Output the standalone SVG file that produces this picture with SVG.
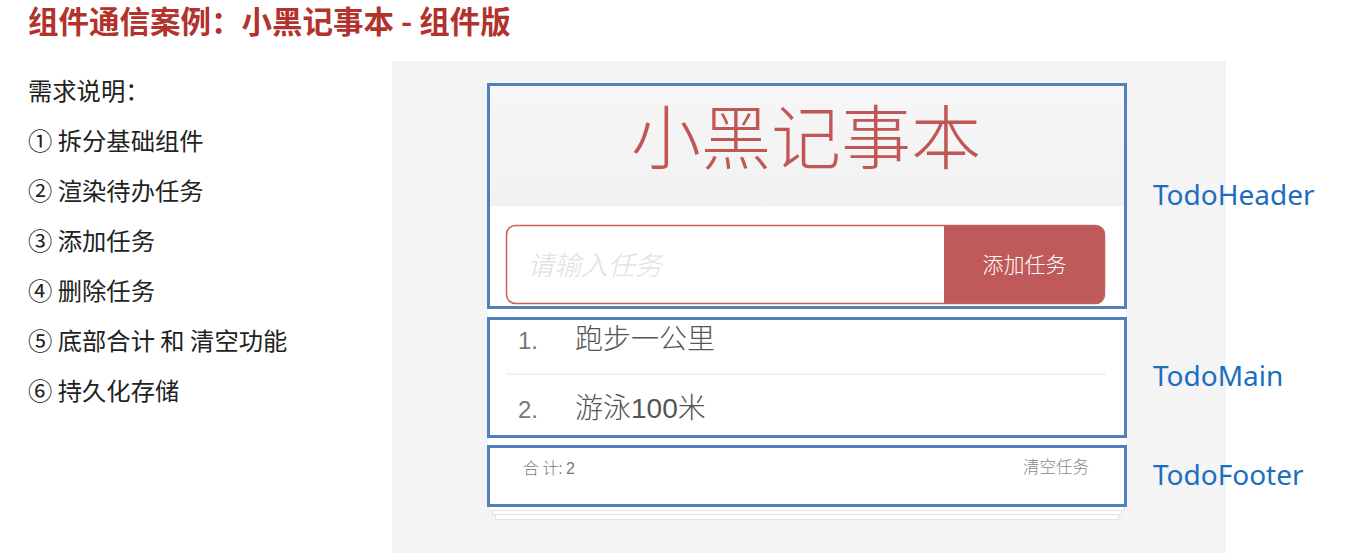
<svg xmlns="http://www.w3.org/2000/svg" width="1346" height="553" viewBox="0 0 1346 553">
<style>
.cjk{font-family:"Noto Sans CJK SC","Noto Sans",sans-serif}
.lbl{font-family:"Noto Sans","Open Sans",sans-serif;font-size:28px;fill:#1b6ebf}
.req{font-size:24.3px;fill:#222}
.box{fill:none;stroke:#5181bb;stroke-width:3}
.sheet{fill:#fff;stroke:#e2e2e2}
</style>
<defs>
<linearGradient id="hdr" x1="0" y1="0" x2="0" y2="1">
<stop offset="0" stop-color="#f6f6f6"/><stop offset="1" stop-color="#f2f2f2"/>
</linearGradient>
</defs>
<rect width="1346" height="553" fill="#fff"/>
<text class="cjk" x="28" y="33" font-size="30.5" font-weight="700" fill="#b2322c">组件通信案例：小黑记事本 - 组件版</text>
<g id="requirements" class="cjk req">
<text x="28" y="100">需求说明：</text>
<text x="28" y="150">① 拆分基础组件</text>
<text x="28" y="200">② 渲染待办任务</text>
<text x="28" y="250">③ 添加任务</text>
<text x="28" y="300">④ 删除任务</text>
<text x="28" y="350">⑤ 底部合计 和 清空功能</text>
<text x="28" y="400">⑥ 持久化存储</text>
</g>
<rect x="392" y="61" width="834" height="492" fill="#f4f4f4"/>
<g id="paper">
<rect class="sheet" x="495.5" y="508.5" width="623" height="11"/>
<rect class="sheet" x="492.5" y="504.5" width="629" height="10"/>
<rect class="sheet" x="489.5" y="500.5" width="635" height="10"/>
<rect x="488" y="84" width="638" height="422" fill="#fff"/>
</g>
<g id="TodoHeader">
<rect x="488" y="84" width="638" height="122" fill="url(#hdr)"/>
<text class="cjk" x="806" y="164" font-size="70" font-weight="300" fill="#c05656" text-anchor="middle">小黑记事本</text>
<rect x="506.5" y="225.5" width="598" height="78" rx="9" fill="#fff" stroke="#c46060" stroke-width="1.5"/>
<path d="M944 226 H1096 A8 8 0 0 1 1104 234 V295 A8 8 0 0 1 1096 303 H944 Z" fill="#c05a5a"/>
<text class="cjk" x="1024.5" y="272" font-size="21" font-weight="300" fill="#fff" text-anchor="middle">添加任务</text>
<text class="cjk" x="527" y="275" font-size="27" font-weight="300" font-style="italic" fill="#e0e0e0">请输入任务</text>
<rect class="box" x="488.5" y="84.5" width="637" height="223"/>
<text class="lbl" x="1153" y="205">TodoHeader</text>
</g>
<g id="TodoMain">
<text x="518" y="349" font-family="Liberation Sans,Arial,sans-serif" font-size="24" fill="#777">1.</text>
<text class="cjk" x="575" y="349" font-size="28" font-weight="300" fill="#555">跑步一公里</text>
<line x1="506" y1="374" x2="1106" y2="374" stroke="#ececec" stroke-width="1.5"/>
<text x="518" y="418" font-family="Liberation Sans,Arial,sans-serif" font-size="24" fill="#777">2.</text>
<text class="cjk" x="575" y="418" font-size="28" font-weight="300" fill="#555">游泳<tspan font-family="Liberation Sans,Arial,sans-serif">100</tspan>米</text>
<rect class="box" x="488.5" y="318.5" width="637" height="118"/>
<text class="lbl" x="1153" y="386">TodoMain</text>
</g>
<g id="TodoFooter">
<text class="cjk" x="523" y="474" font-size="16" font-weight="300" fill="#777">合 计: <tspan font-family="Liberation Sans,Arial,sans-serif">2</tspan></text>
<text class="cjk" x="1089" y="473" font-size="16.5" font-weight="300" fill="#888" text-anchor="end">清空任务</text>
<rect class="box" x="488.5" y="446.5" width="637" height="59"/>
<text class="lbl" x="1153" y="485">TodoFooter</text>
</g>
<g id="connectors"/>
</svg>
